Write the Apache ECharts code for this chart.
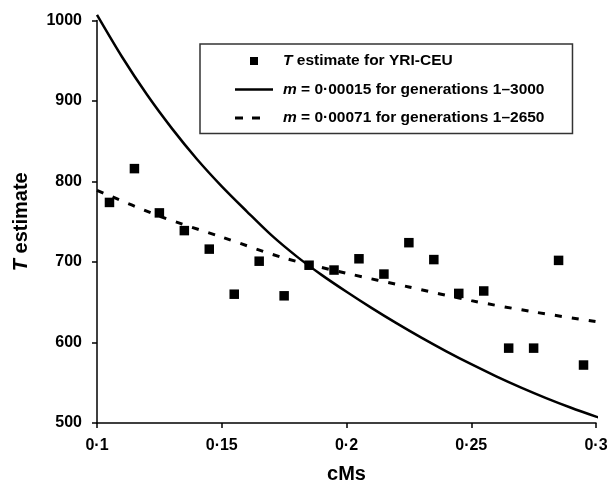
<!DOCTYPE html>
<html>
<head>
<meta charset="utf-8">
<script src="https://cdn.jsdelivr.net/npm/echarts@6/dist/echarts.min.js"></script>
<style>html,body{margin:0;padding:0;background:#fff}#c{width:616px;height:489px}</style>
</head>
<body>
<div id="c"></div>
<script>
// Observed T estimates (YRI-CEU)
const cmBins = [0.105, 0.115, 0.125, 0.135, 0.145, 0.155, 0.165, 0.175, 0.185, 0.195,
                0.205, 0.215, 0.225, 0.235, 0.245, 0.255, 0.265, 0.275, 0.285, 0.295];
const tEstimate = [774, 816, 761, 739, 716, 660, 701, 658, 696, 690,
                   704, 685, 724, 703, 661, 664, 593, 593, 702, 572];

// Model curve m = 0.00015, generations 1-3000
const solidX = [0.1, 0.11, 0.12, 0.13, 0.14, 0.15, 0.16, 0.17, 0.18, 0.19, 0.2,
                0.21, 0.22, 0.23, 0.24, 0.25, 0.26, 0.27, 0.28, 0.29, 0.3, 0.303];
const solidY = [1007, 955, 908, 866, 828, 794, 763, 733, 707, 684, 663,
                643, 624, 606, 589, 573, 558, 544, 531, 519, 508, 505];

// Model curve m = 0.00071, generations 1-2650
const dashX = [0.1, 0.125, 0.15, 0.175, 0.2, 0.225, 0.25, 0.275, 0.3, 0.305];
const dashY = [789, 757, 731, 705, 686, 669, 652, 638, 626, 624];

const xTicks = [0.1, 0.15, 0.2, 0.25, 0.3];
const yTicks = [500, 600, 700, 800, 900, 1000];

const names = ['T estimate for YRI-CEU', 'm = 0.00015 for generations 1-3000', 'm = 0.00071 for generations 1-2650'];
const legendLabels = {};
legendLabels[names[0]] = '{i|T} estimate for YRI-CEU';
legendLabels[names[1]] = '{i|m} = 0·00015 for generations 1–3000';
legendLabels[names[2]] = '{i|m} = 0·00071 for generations 1–2650';

const FONT = 'Liberation Sans, Arial, sans-serif';
const zip = (a, b) => a.map((v, i) => [v, b[i]]);

const ICON_SQUARE = 'path://M0,0L8,0L8,8L0,8Z';
const ICON_SOLID = 'path://M0,0L38,0L38,2.6L0,2.6Z';
const ICON_DASH = 'path://M0,0L8,0L8,3L0,3Z M17,0L25,0L25,3L17,3Z M38,0L38,3Z';

const chart = echarts.init(document.getElementById('c'));
chart.setOption({
  backgroundColor: '#fff',
  animation: false,
  grid: { left: 97, right: 20, top: 20.5, bottom: 63.3, containLabel: false },
  legend: {
    orient: 'vertical',
    left: 200, top: 44,
    padding: [9, 28, 7.5, 35],
    itemGap: 12.5,
    itemWidth: 38, itemHeight: 8,
    backgroundColor: '#fff',
    borderColor: '#333', borderWidth: 1.5,
    data: [
      { name: names[0], icon: ICON_SQUARE },
      { name: names[1], icon: ICON_SOLID },
      { name: names[2], icon: ICON_DASH }
    ],
    formatter: n => legendLabels[n],
    textStyle: {
      color: '#000', fontFamily: FONT, fontSize: 15.5, fontWeight: 'bold',
      padding: [0, 0, 0, 5],
      rich: { i: { fontStyle: 'italic', fontWeight: 'bold', fontSize: 15.5, fontFamily: FONT, color: '#000' } }
    }
  },
  xAxis: {
    type: 'value', min: 0.1, max: 0.3,
    name: 'cMs', nameLocation: 'middle', nameGap: 41,
    nameTextStyle: { color: '#000', fontFamily: FONT, fontSize: 20, fontWeight: 'bold' },
    axisLine: { show: true, lineStyle: { color: '#000', width: 1.5 } },
    axisTick: { show: true, length: 5, customValues: xTicks, lineStyle: { color: '#000', width: 1.5 } },
    axisLabel: {
      customValues: xTicks, margin: 15,
      color: '#000', fontFamily: FONT, fontSize: 16, fontWeight: 'bold',
      formatter: v => String(+(+v).toFixed(2)).replace('.', '·')
    },
    splitLine: { show: false }
  },
  yAxis: {
    type: 'value', min: 500, max: 1000, interval: 100,
    name: '{i|T} estimate', nameLocation: 'middle', nameGap: 66,
    nameTextStyle: {
      color: '#000', fontFamily: FONT, fontSize: 20, fontWeight: 'bold',
      rich: { i: { fontStyle: 'italic', fontWeight: 'bold', fontSize: 20, fontFamily: FONT, color: '#000' } }
    },
    axisLine: { show: true, lineStyle: { color: '#000', width: 1.5 } },
    axisTick: { show: true, length: 5, customValues: yTicks, lineStyle: { color: '#000', width: 1.5 } },
    axisLabel: {
      customValues: yTicks, margin: 15,
      color: '#000', fontFamily: FONT, fontSize: 16, fontWeight: 'bold',
      formatter: v => String(Math.round(v))
    },
    splitLine: { show: false }
  },
  series: [
    {
      name: names[0], type: 'scatter', symbol: 'rect', symbolSize: 9.5,
      itemStyle: { color: '#000', opacity: 1 },
      data: zip(cmBins, tEstimate), z: 5
    },
    {
      name: names[1], type: 'line', showSymbol: false, symbol: 'none', smooth: 0.3, clip: false,
      lineStyle: { color: '#000', width: 2.5 }, itemStyle: { color: '#000' },
      data: zip(solidX, solidY)
    },
    {
      name: names[2], type: 'line', showSymbol: false, symbol: 'none', smooth: 0.3, clip: false,
      lineStyle: { color: '#000', width: 3, type: [7, 10] }, itemStyle: { color: '#000' },
      data: zip(dashX, dashY)
    }
  ]
});
</script>
</body>
</html>
